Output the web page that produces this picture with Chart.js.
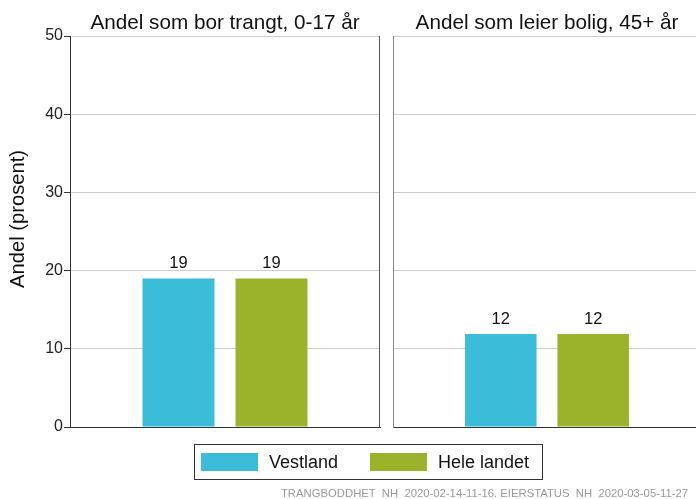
<!DOCTYPE html>
<html>
<head>
<meta charset="utf-8">
<script src="https://cdn.jsdelivr.net/npm/chart.js@4/dist/chart.umd.min.js"></script>
<style>
html,body{margin:0;padding:0;background:#fff;}
#wrap{position:relative;width:696px;height:499px;overflow:hidden;font-family:"Liberation Sans",Arial,sans-serif;color:#111;}
canvas{position:absolute;top:0;}
#c1{left:0;}
#c2{left:388px;}
#legend{position:absolute;left:194px;top:444px;width:347px;height:34px;border:1px solid #333;}
.sw{position:absolute;top:8px;width:57px;height:18px;}
.lt{position:absolute;top:7px;font-size:18px;line-height:20px;white-space:nowrap;}
#footer{position:absolute;right:8px;top:488px;font-size:11.3px;line-height:11px;color:#999;white-space:pre;}
</style>
</head>
<body>
<div id="wrap">
  <canvas id="c1" width="385" height="499"></canvas>
  <canvas id="c2" width="318" height="499"></canvas>
  <div id="legend"></div>
  <div id="footer"></div>
</div>
<script>
// ---- data ----
const panelTitles = ['Andel som bor trangt, 0-17 år', 'Andel som leier bolig, 45+ år'];
const seriesNames = ['Vestland', 'Hele landet'];
const vestland = [19, 11.9];
const heleLandet = [19, 11.9];
const yTicks = [0, 10, 20, 30, 40, 50];
const yTitle = 'Andel (prosent)';
const footerText = 'TRANGBODDHET  NH  2020-02-14-11-16. EIERSTATUS  NH  2020-03-05-11-27';
const colors = ['#3bbcd8', '#9bb32b'];

const FAM = '"Liberation Sans", Arial, sans-serif';

const decor = {
  id: 'decor',
  afterDraw(chart, args, opts) {
    const ctx = chart.ctx, a = chart.chartArea;
    ctx.save();
    ctx.fillStyle = '#111';
    ctx.textAlign = 'center';
    ctx.textBaseline = 'alphabetic';
    ctx.font = '20.7px ' + FAM;
    ctx.fillText(opts.title, (a.left + a.right) / 2, 29);
    ctx.font = '16.5px ' + FAM;
    chart.data.datasets.forEach((ds, i) => {
      chart.getDatasetMeta(i).data.forEach((bar, j) => {
        ctx.fillText(String(Math.round(ds.data[j])), bar.x, bar.y - 10);
      });
    });
    if (opts.rightBorder) {
      ctx.strokeStyle = '#555';
      ctx.lineWidth = 1;
      ctx.beginPath();
      const x = Math.round(a.right) - 0.5;
      ctx.moveTo(x, a.top);
      ctx.lineTo(x, a.bottom + 0.5);
      ctx.stroke();
    }
    if (opts.yTitle) {
      ctx.translate(18, 219);
      ctx.rotate(-Math.PI / 2);
      ctx.textBaseline = 'middle';
      ctx.font = '20.2px ' + FAM;
      ctx.fillText(opts.yTitle, 0, 0);
    }
    ctx.restore();
  }
};

function makeChart(id, p, isLeft) {
  return new Chart(document.getElementById(id), {
    type: 'bar',
    data: {
      labels: [''],
      datasets: [
        { label: seriesNames[0], data: [vestland[p]], backgroundColor: colors[0] },
        { label: seriesNames[1], data: [heleLandet[p]], backgroundColor: colors[1] }
      ]
    },
    options: {
      responsive: false,
      animation: false,
      devicePixelRatio: 1,
      datasets: { bar: { barPercentage: 0.774, categoryPercentage: 0.6 } },
      layout: { padding: { left: isLeft ? 0 : 5, right: 5, top: 36, bottom: 72 } },
      plugins: {
        legend: { display: false },
        tooltip: { enabled: false },
        decor: { title: panelTitles[p], rightBorder: isLeft, yTitle: isLeft ? yTitle : null }
      },
      scales: {
        x: {
          ticks: { display: false },
          grid: { display: false },
          border: { color: '#333', width: 1 },
          afterFit: s => { s.height = 0; }
        },
        y: {
          min: 0, max: 50,
          afterBuildTicks: s => { s.ticks = yTicks.map(v => ({ value: v })); },
          ticks: { display: isLeft, font: { size: 16, family: FAM }, color: '#222', padding: 1 },
          grid: {
            color: c => (c.tick && c.tick.value === 0) ? 'rgba(0,0,0,0)' : '#cccccc',
            tickColor: '#333', tickLength: 6, drawTicks: isLeft
          },
          border: { color: isLeft ? '#333' : '#888', width: 1 },
          afterFit: s => { s.width = isLeft ? 70 : 0; }
        }
      }
    },
    plugins: [decor]
  });
}

makeChart('c1', 0, true);
makeChart('c2', 1, false);

// legend
const lg = document.getElementById('legend');
const swLeft = [6, 175], txtLeft = [74, 243];
seriesNames.forEach((n, i) => {
  const s = document.createElement('div');
  s.className = 'sw'; s.style.left = swLeft[i] + 'px'; s.style.background = colors[i];
  lg.appendChild(s);
  const t = document.createElement('div');
  t.className = 'lt'; t.style.left = txtLeft[i] + 'px'; t.textContent = n;
  lg.appendChild(t);
});
document.getElementById('footer').textContent = footerText;
</script>
</body>
</html>
